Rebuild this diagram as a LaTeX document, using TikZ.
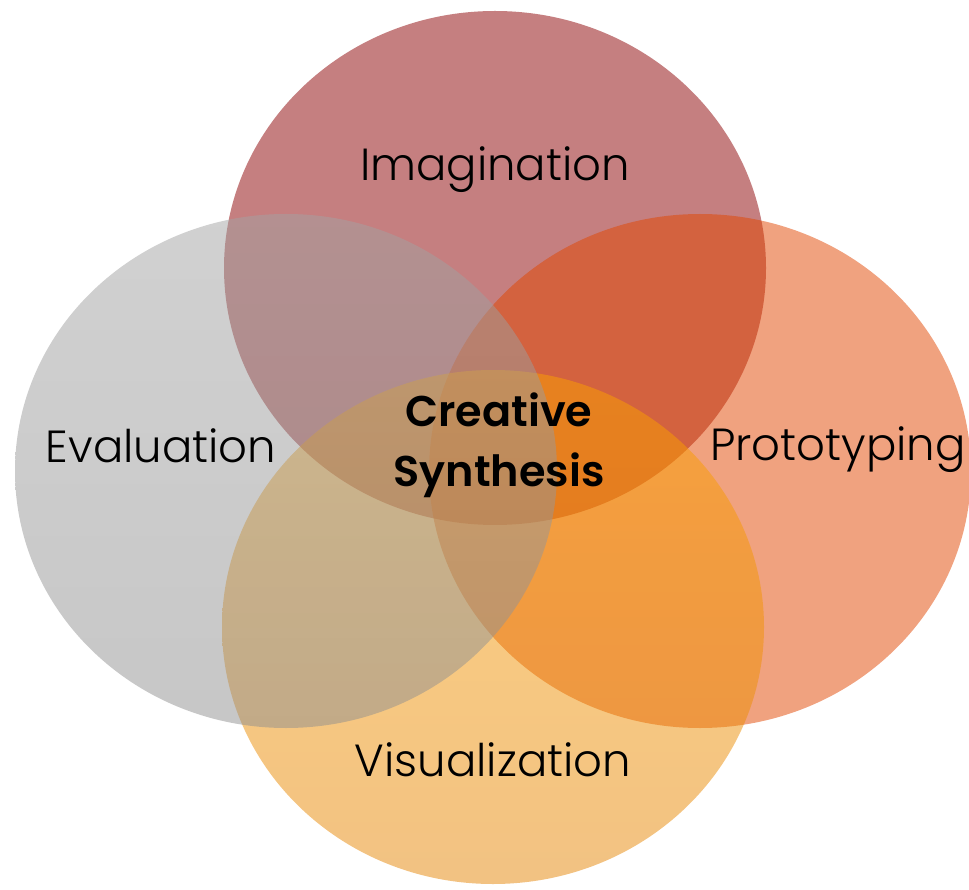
\documentclass[tikz,border=0pt]{standalone}
\usepackage{fontspec}
\setmainfont{Poppins}
\newfontfamily\lightfont{Poppins Light}
\newfontfamily\semifont{Poppins SemiBold}
\usetikzlibrary{shapes.geometric}

\definecolor{imagC}{RGB}{139,0,2}
\definecolor{evalTop}{RGB}{163,163,163}
\definecolor{evalBot}{RGB}{143,143,143}
\definecolor{protoC}{RGB}{225,69,0}
\definecolor{visTop}{RGB}{253,162,0}
\definecolor{visBot}{RGB}{229,133,5}

\tikzset{
  petal/.style={ellipse, inner sep=0pt, minimum width=542pt, minimum height=514pt,
                draw=none, fill opacity=0.5},
  lbl/.style={font=\lightfont\fontsize{45}{50}\selectfont, text=black},
  core/.style={font=\semifont\fontsize{43}{60}\selectfont, text=black, align=center}
}

\begin{document}
\begin{tikzpicture}[x=1pt, y=-1pt]
  \useasboundingbox (0,0) rectangle (969,890);

  % the four overlapping areas
  \node[petal, fill=imagC] (imag) at (495,268) {};
  \node[petal, fill=protoC] (proto) at (700,471) {};
  \node[petal, top color=visTop, bottom color=visBot] (vis) at (493,627) {};
  \node[petal, top color=evalTop, bottom color=evalBot] (eval) at (286,471) {};

  % labels
  \node[lbl] (timag) at (495,170) {Imagination};
  \node[lbl] (teval) at (161,446) {Evaluation};
  \node[lbl] (tproto) at (838,450) {Prototyping};
  \node[lbl] (tvis) at (493,760) {Visualization};
  \node[core] (tcore) at (499,445) {Creative\\Synthesis};
\end{tikzpicture}
\end{document}
